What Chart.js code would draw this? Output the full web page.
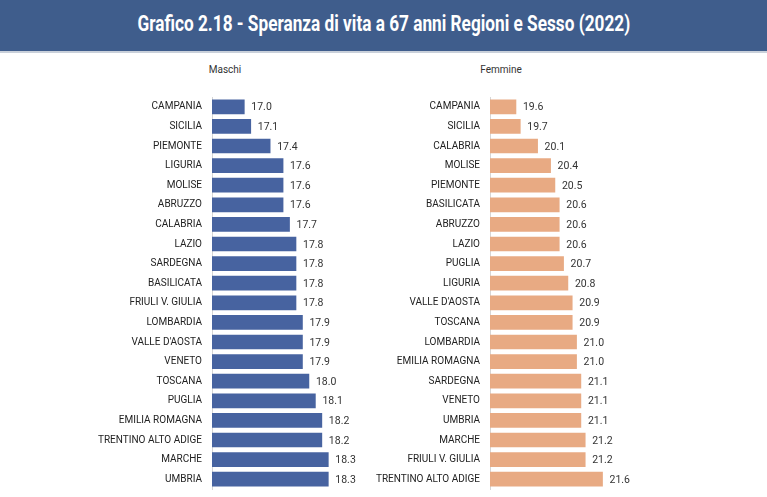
<!DOCTYPE html>
<html>
<head>
<meta charset="utf-8">
<script src="https://cdn.jsdelivr.net/npm/chart.js@4.4.0/dist/chart.umd.min.js"></script>
<style>
  body { margin: 0; width: 767px; height: 497px; background: #fff; position: relative; overflow: hidden; font-family: Roboto, sans-serif; }
  .header { position: absolute; left: 0; top: 0; width: 767px; height: 51px; background: #3f5d8c; border-bottom: 2px solid #c9d0da; text-align: center; }
  #title { display: inline-block; color: #fff; font-weight: 700; font-size: 22px; line-height: 48px; white-space: nowrap; transform-origin: center; }
  .sub { position: absolute; top: 64px; font-size: 10px; color: #333; transform: translateX(-50%); }
  canvas { position: absolute; top: 60px; }
</style>
</head>
<body>
<div class="header"><span id="title">Grafico 2.18 - Speranza di vita a 67 anni Regioni e Sesso (2022)</span></div>
<div class="sub" style="left:225px">Maschi</div>
<div class="sub" style="left:501px">Femmine</div>
<canvas id="maschi" width="380" height="437" style="left:0"></canvas>
<canvas id="femmine" width="397" height="437" style="left:370px"></canvas>

<script>
// Maschi
const regioniM = ['CAMPANIA', 'SICILIA', 'PIEMONTE', 'LIGURIA', 'MOLISE', 'ABRUZZO', 'CALABRIA', 'LAZIO',
  'SARDEGNA', 'BASILICATA', 'FRIULI V. GIULIA', 'LOMBARDIA', "VALLE D'AOSTA", 'VENETO', 'TOSCANA',
  'PUGLIA', 'EMILIA ROMAGNA', 'TRENTINO ALTO ADIGE', 'MARCHE', 'UMBRIA'];
const valoriM = [17.0, 17.1, 17.4, 17.6, 17.6, 17.6, 17.7, 17.8, 17.8, 17.8, 17.8, 17.9, 17.9, 17.9, 18.0,
  18.1, 18.2, 18.2, 18.3, 18.3];

// Femmine
const regioniF = ['CAMPANIA', 'SICILIA', 'CALABRIA', 'MOLISE', 'PIEMONTE', 'BASILICATA', 'ABRUZZO', 'LAZIO',
  'PUGLIA', 'LIGURIA', "VALLE D'AOSTA", 'TOSCANA', 'LOMBARDIA', 'EMILIA ROMAGNA', 'SARDEGNA', 'VENETO',
  'UMBRIA', 'MARCHE', 'FRIULI V. GIULIA', 'TRENTINO ALTO ADIGE'];
const valoriF = [19.6, 19.7, 20.1, 20.4, 20.5, 20.6, 20.6, 20.6, 20.7, 20.8, 20.9, 20.9, 21.0, 21.0, 21.1,
  21.1, 21.1, 21.2, 21.2, 21.6];

// fit the title to the width of the original heading
const title = document.getElementById('title');
title.style.transform = 'scaleX(' + (493 / title.offsetWidth) + ')';

// writes the value just after the end of each bar
const valueLabels = {
  id: 'valueLabels',
  afterDatasetsDraw(chart) {
    const ctx = chart.ctx;
    const meta = chart.getDatasetMeta(0);
    ctx.save();
    ctx.font = '10.5px Roboto, sans-serif';
    ctx.fillStyle = '#333';
    ctx.textBaseline = 'middle';
    meta.data.forEach((bar, i) => {
      ctx.fillText(chart.data.datasets[0].data[i].toFixed(1), bar.x + 7, bar.y + 1);
    });
    ctx.restore();
  }
};

function makeChart(id, labels, values, color, xMin, xMax, axisWidth) {
  return new Chart(document.getElementById(id), {
    type: 'bar',
    data: {
      labels: labels,
      datasets: [{ data: values, backgroundColor: color, barThickness: 14 }]
    },
    options: {
      indexAxis: 'y',
      responsive: false,
      animation: false,
      layout: { padding: { top: 37, bottom: 8 } },
      plugins: { legend: { display: false }, tooltip: { enabled: false } },
      scales: {
        x: { display: false, min: xMin, max: xMax },
        y: {
          grid: { display: false, drawTicks: false },
          border: { display: true, color: '#d6d6d6' },
          ticks: { autoSkip: false, padding: 10, color: '#222', font: { family: 'Roboto', size: 10 } },
          afterFit: (scale) => {
            scale.width = axisWidth;
            // the tick padding should only push labels sideways, not shrink the rows
            scale.paddingTop = 0;
            scale.paddingBottom = 0;
          }
        }
      }
    },
    plugins: [valueLabels]
  });
}

makeChart('maschi', regioniM, valoriM, '#4763a0', 16.5, 19.1, 212);
makeChart('femmine', regioniF, valoriF, '#e8aa83', 19.0, 25.4, 120);
</script>
</body>
</html>
